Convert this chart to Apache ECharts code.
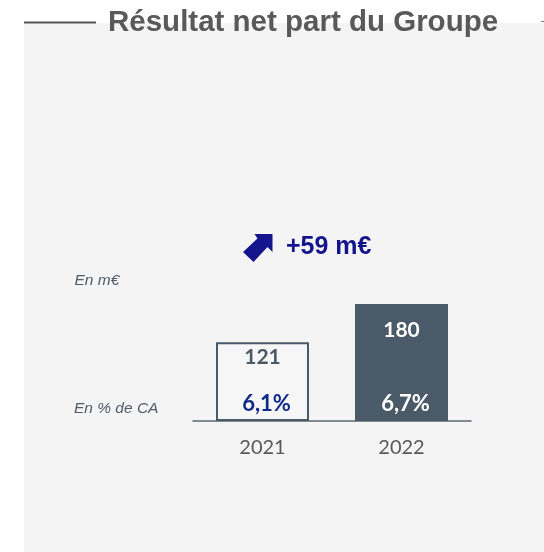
<!DOCTYPE html>
<html><head><meta charset="utf-8">
<script src="https://cdn.jsdelivr.net/npm/echarts@6/dist/echarts.min.js"></script>
<style>html,body{margin:0;padding:0;background:#fff}#c{width:544px;height:552px}</style>
</head><body><div id="c"></div>
<script>
const categories = ['2021', '2022'];
const values = [121, 180];
const pctValues = [6.1, 6.7];
const titleText = 'Résultat net part du Groupe';
const unitLabel = 'En m€';
const pctLabel = 'En % de CA';

const dark = '#4a5a68';
const navy = '#14148c';
const fmtPct = v => v.toFixed(1).replace('.', ',') + '%';
const delta = values[1] - values[0];

const chart = echarts.init(document.getElementById('c'), null, {renderer: 'canvas'});
chart.setOption({
  animation: false,
  backgroundColor: '#ffffff',
  graphic: [
    {type: 'rect', shape: {x: 24, y: 23, width: 520, height: 529}, style: {fill: '#f4f4f4'}, z: -10},
    {type: 'line', shape: {x1: 24, y1: 22.5, x2: 96, y2: 22.5}, style: {stroke: '#555555', lineWidth: 2}},
    {type: 'line', shape: {x1: 541, y1: 21.5, x2: 544, y2: 21.5}, style: {stroke: '#777777', lineWidth: 1}},
    {type: 'text', x: 108, y: 22.5, style: {text: titleText, font: 'bold 29.5px Arial, "Liberation Sans"', fill: '#595959', verticalAlign: 'middle'}},
    {type: 'polygon', shape: {points: [[272.5,234],[272.5,252],[267.5,247],[253.5,262],[243,252],[257.5,238.5],[254.5,234]]}, style: {fill: navy}},
    {type: 'text', x: 286, y: 247, style: {text: '+' + delta + ' m€', font: 'bold 25px Arial, "Liberation Sans"', fill: navy, verticalAlign: 'middle'}},
    {type: 'text', x: 74.5, y: 280.5, style: {text: unitLabel, font: 'italic 15.5px Arial, "Liberation Sans"', fill: '#4f5b66', verticalAlign: 'middle'}},
    {type: 'text', x: 74, y: 408.5, style: {text: pctLabel, font: 'italic 15.5px Arial, "Liberation Sans"', fill: '#4f5b66', verticalAlign: 'middle'}}
  ],
  grid: {left: 193, width: 278, top: 291, height: 130, containLabel: false},
  xAxis: {
    type: 'category', data: categories, boundaryGap: true,
    axisLine: {lineStyle: {color: '#5b6770', width: 1.5}},
    axisTick: {show: false},
    axisLabel: {color: '#595959', fontFamily: 'Lato', fontSize: 20, margin: 17}
  },
  yAxis: {type: 'value', min: 0, max: 200, show: false, splitLine: {show: false}},
  series: [
    {
      type: 'bar', barWidth: 93, z: 2,
      data: values.map((v, i) => ({
        value: v,
        itemStyle: i === 0 ? {color: '#f6f6f6', borderColor: dark, borderWidth: 2} : {color: dark},
        label: {
          show: true, position: 'insideTop', distance: i === 0 ? 4 : 16,
          color: i === 0 ? dark : '#ffffff'
        }
      })),
      label: {show: true, fontFamily: 'Lato', fontWeight: 'bold', fontSize: 21}
    },
    {
      type: 'bar', barWidth: 93, barGap: '-100%', z: 3,
      itemStyle: {color: 'rgba(0,0,0,0)'},
      data: values.map((v, i) => ({
        value: v,
        label: {
          show: true, position: 'insideBottom', distance: 6, offset: [4, 0],
          formatter: () => fmtPct(pctValues[i]),
          color: i === 0 ? '#102a88' : '#ffffff',
          fontFamily: 'Lato', fontWeight: 'bold', fontSize: 22
        }
      }))
    }
  ]
});
</script></body></html>
